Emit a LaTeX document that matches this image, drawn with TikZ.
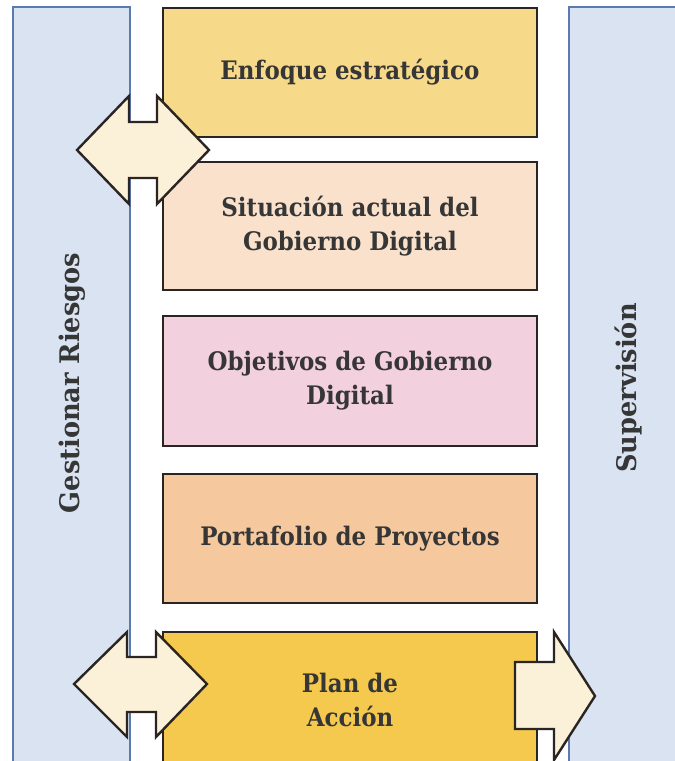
\documentclass[tikz,border=0pt]{standalone}
\usepackage{fontspec}
\setmainfont{DejaVu Serif}[FakeStretch=0.9]
\newfontfamily\labelfont{DejaVu Serif}[FakeStretch=0.95]
\usetikzlibrary{backgrounds}
\definecolor{panelfill}{HTML}{D9E3F1}
\definecolor{panelline}{HTML}{5C79B0}
\definecolor{cA}{HTML}{F7D98A}
\definecolor{cB}{HTML}{F9E1CC}
\definecolor{cC}{HTML}{F3D0DD}
\definecolor{cD}{HTML}{F5C89E}
\definecolor{cE}{HTML}{F5C94E}
\definecolor{arrowfill}{HTML}{FBF0D8}
\definecolor{ink}{HTML}{363636}
\definecolor{edge}{HTML}{2A2522}
\tikzset{
  panel/.style={fill=panelfill, draw=panelline, line width=1.2pt},
  stepbox/.style={draw=edge, line width=2.4pt, minimum width=374pt, inner sep=0pt, align=center,
     text=ink, font=\fontsize{25.5}{34}\selectfont\bfseries},
  sidelabel/.style={rotate=90, text=ink, font=\labelfont\fontsize{27}{30}\selectfont\bfseries},
  bigarrow/.style={fill=arrowfill, draw=edge, line width=2.4pt, line join=miter},
  midline/.style={draw=gray!55, line width=0.7pt}
}
\begin{document}
\begin{tikzpicture}[x=1pt,y=-1pt]
\useasboundingbox (0,0) rectangle (675,761);
\clip (0,0) rectangle (675,761);
\fill[white] (0,0) rectangle (675,761);
% side panels
\draw[panel] (13,7) rectangle (130,775);
\draw[panel] (569,7) rectangle (690,775);
\node[sidelabel] (gr) at (72,383) {Gestionar Riesgos};
\node[sidelabel] (sup) at (629,388) {Supervisión};
% boxes
\node[stepbox, fill=cA, minimum height=129pt] (b1) at (350,72.5) {Enfoque estratégico};
\node[stepbox, fill=cB, minimum height=128pt] (b2) at (350,226) {Situación actual del\\Gobierno Digital};
\node[stepbox, fill=cC, minimum height=130pt] (b3) at (350,381) {Objetivos de Gobierno\\Digital};
\node[stepbox, fill=cD, minimum height=129pt] (b4) at (350,538.5) {Portafolio de Proyectos};
\node[stepbox, fill=cE, minimum height=134pt] (b5) at (350,699) {};
\node[text=ink, font=\fontsize{25.5}{34}\selectfont\bfseries, align=center] (b5t) at (350,700) {Plan de\\Acción};
\begin{scope}[on background layer]
\draw[midline] (b1.south) -- (b5.north);
\end{scope}
% arrows
\draw[bigarrow] (77,150) -- (129,96) -- (129,122) -- (157,122) -- (157,96) -- (209,150)
   -- (157,204) -- (157,178) -- (129,178) -- (129,204) -- cycle;
\draw[bigarrow] (74,684) -- (127,632) -- (127,657) -- (156,657) -- (156,632) -- (207,684)
   -- (156,737) -- (156,712) -- (127,712) -- (127,737) -- cycle;
\draw[bigarrow] (515,662) -- (554,662) -- (554,632) -- (595,696) -- (554,760)
   -- (554,729) -- (515,729) -- cycle;
\end{tikzpicture}
\end{document}
